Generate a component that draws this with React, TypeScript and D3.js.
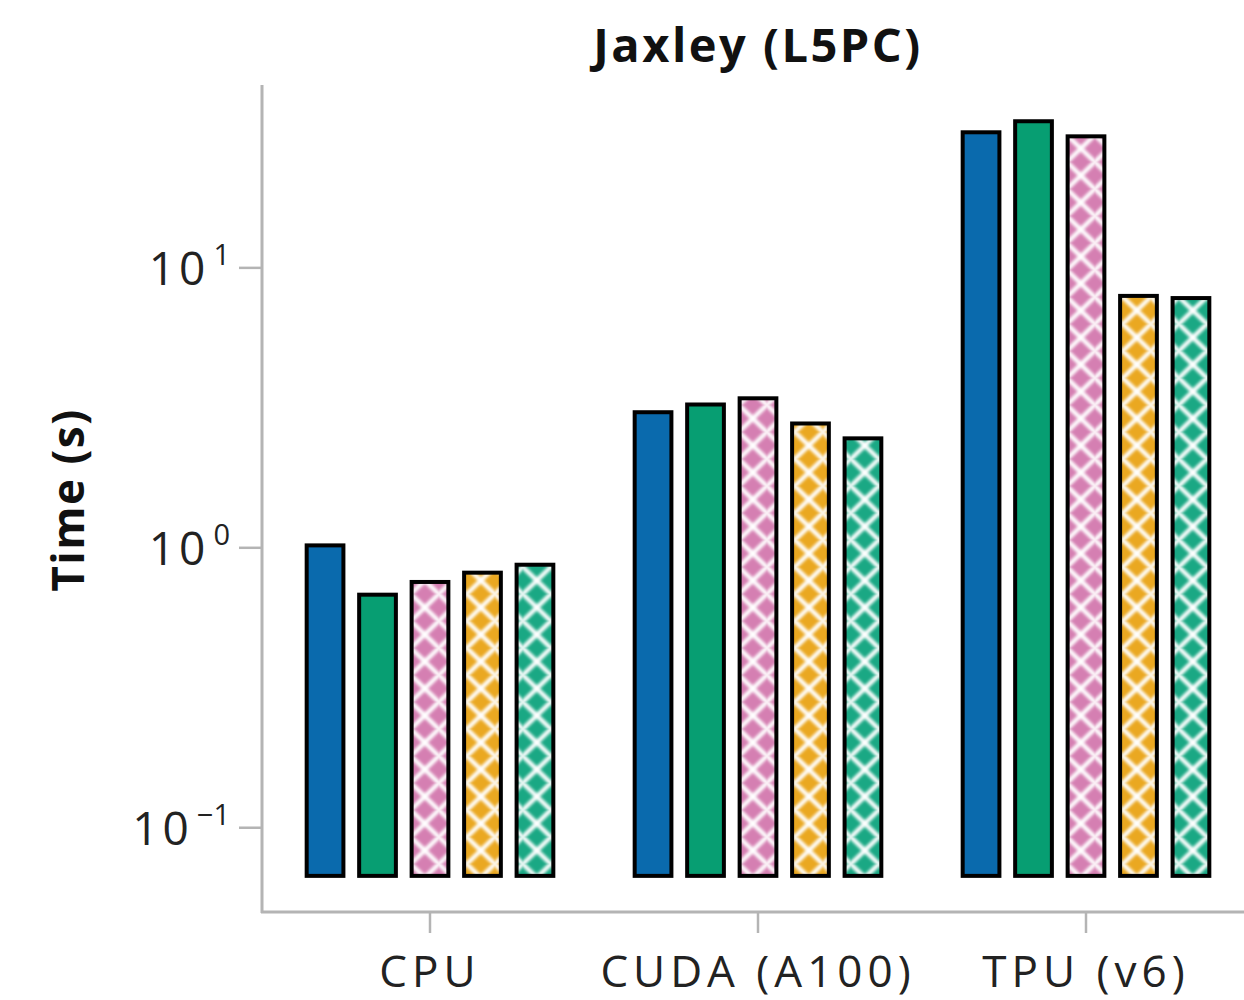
import React, { useEffect, useRef } from "react";
import * as d3 from "d3";

const devices = ["CPU", "CUDA (A100)", "TPU (v6)"];
const series = ["s1", "s2", "s3", "s4", "s5"];
const colors = ["#0a6aad", "#079e72", "#d57fb2", "#eaa821", "#1aa884"];
const hatched = [false, false, true, true, true];
// time in seconds, one array per device, in series order
const cpuTimes = [1.02, 0.68, 0.755, 0.815, 0.87];
const cudaTimes = [3.05, 3.25, 3.42, 2.78, 2.46];
const tpuTimes = [30.5, 33.4, 29.5, 7.94, 7.8];
const yTicks = [0.1, 1, 10];
const yTickExp = ["\u22121", "0", "1"];

const W = 1244;
const H = 1000;

const App = () => {
  const ref = useRef<SVGSVGElement>(null);

  useEffect(() => {
    const svg = d3.select(ref.current);
    svg.selectAll("*").remove();

    const values = [cpuTimes, cudaTimes, tpuTimes];
    const font = "'Open Sans', 'Noto Sans', sans-serif";

    const x0 = d3
      .scaleBand()
      .domain(devices)
      .range([266, 1250])
      .paddingInner(0.2)
      .paddingOuter(0.1);
    const x1 = d3
      .scaleBand()
      .domain(series)
      .range([0, x0.bandwidth()])
      .paddingInner(0.3)
      .paddingOuter(0.15);
    const y = d3.scaleLog().domain([0.05, 45]).range([912, 85]);
    const base = 0.0673;

    const defs = svg.append("defs");
    defs
      .append("filter")
      .attr("id", "soft")
      .append("feGaussianBlur")
      .attr("stdDeviation", 1.8);
    const pw = 28;
    const ph = 27;
    colors.forEach((c, i) => {
      if (!hatched[i]) return;
      const p = defs
        .append("pattern")
        .attr("id", `hatch${i}`)
        .attr("patternUnits", "userSpaceOnUse")
        .attr("width", pw)
        .attr("height", ph);
      p.append("rect").attr("width", pw).attr("height", ph).attr("fill", c);
      const g = p.append("g").attr("filter", "url(#soft)");
      [
        [-pw / 2, -ph / 2, pw * 1.5, ph * 1.5],
        [pw * 1.5, -ph / 2, -pw / 2, ph * 1.5],
      ].forEach(([a, b, cc, dd]) => {
        g.append("line")
          .attr("x1", a)
          .attr("y1", b)
          .attr("x2", cc)
          .attr("y2", dd)
          .attr("stroke", "#fff")
          .attr("stroke-width", 4.5);
      });
    });

    // title
    svg
      .append("text")
      .attr("x", 758)
      .attr("y", 62)
      .attr("text-anchor", "middle")
      .attr("font-family", font)
      .attr("font-weight", 700)
      .attr("font-size", 47)
      .attr("letter-spacing", 2.5)
      .attr("fill", "#111")
      .text("Jaxley (L5PC)");

    // y label
    svg
      .append("text")
      .attr("transform", "translate(84,500) rotate(-90)")
      .attr("text-anchor", "middle")
      .attr("font-family", font)
      .attr("font-weight", 700)
      .attr("font-size", 44)
      .attr("letter-spacing", 1.5)
      .attr("fill", "#111")
      .text("Time (s)");

    // bars
    devices.forEach((dev, di) => {
      const g = svg.append("g").attr("transform", `translate(${x0(dev)},0)`);
      g.selectAll("rect")
        .data(values[di])
        .enter()
        .append("rect")
        .attr("x", (d, i) => x1(series[i]))
        .attr("y", (d) => y(d))
        .attr("width", x1.bandwidth())
        .attr("height", (d) => y(base) - y(d))
        .attr("fill", (d, i) => (hatched[i] ? `url(#hatch${i})` : colors[i]))
        .attr("stroke", "#000")
        .attr("stroke-width", 4);
    });

    // axes
    const axisColor = "#b4b4b4";
    svg
      .append("line")
      .attr("x1", 262)
      .attr("x2", 262)
      .attr("y1", 85)
      .attr("y2", 913)
      .attr("stroke", axisColor)
      .attr("stroke-width", 3);
    svg
      .append("line")
      .attr("x1", 261)
      .attr("x2", W)
      .attr("y1", 912)
      .attr("y2", 912)
      .attr("stroke", axisColor)
      .attr("stroke-width", 3);

    yTicks.forEach((t, i) => {
      const ty = y(t);
      svg
        .append("line")
        .attr("x1", 239)
        .attr("x2", 262)
        .attr("y1", ty)
        .attr("y2", ty)
        .attr("stroke", axisColor)
        .attr("stroke-width", 2.5);
      const txt = svg
        .append("text")
        .attr("x", 230)
        .attr("y", ty + 17)
        .attr("text-anchor", "end")
        .attr("font-family", font)
        .attr("font-size", 46)
        .attr("fill", "#222");
      txt.append("tspan").attr("letter-spacing", 4).text("10");
      txt
        .append("tspan")
        .attr("dy", -20)
        .attr("font-size", 29)
        .attr("dx", 4)
        .text(yTickExp[i]);
    });

    devices.forEach((dev) => {
      const cx = (x0(dev) ?? 0) + x0.bandwidth() / 2;
      svg
        .append("line")
        .attr("x1", cx)
        .attr("x2", cx)
        .attr("y1", 912)
        .attr("y2", 933)
        .attr("stroke", axisColor)
        .attr("stroke-width", 2.5);
      svg
        .append("text")
        .attr("x", cx)
        .attr("y", 987)
        .attr("text-anchor", "middle")
        .attr("font-family", font)
        .attr("font-size", 44)
        .attr("letter-spacing", 5)
        .attr("fill", "#222")
        .text(dev);
    });
  }, []);

  return (
    <svg
      ref={ref}
      width={W}
      height={H}
      style={{ position: "absolute", left: 0, top: 0, background: "#fff" }}
    ></svg>
  );
};

export default App;
